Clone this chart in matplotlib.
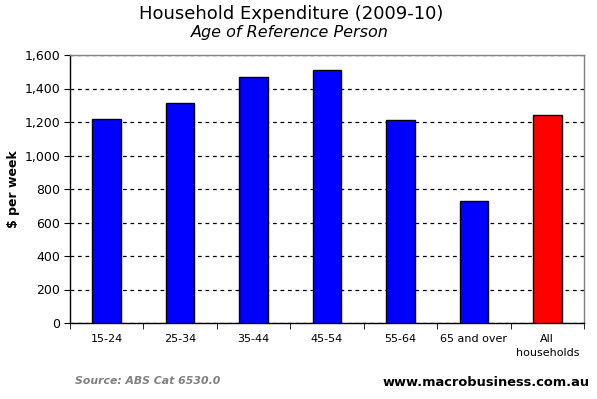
import matplotlib

matplotlib.use("Agg")
import matplotlib.pyplot as plt
import numpy as np

categories = ["15-24", "25-34", "35-44", "45-54", "55-64", "65 and over", "All\nhouseholds"]
spend = [1220, 1316, 1466, 1508, 1209, 730, 1239]
colors = ["#0000ff"] * 6 + ["#ff0000"]
yticks = [0, 200, 400, 600, 800, 1000, 1200, 1400, 1600]

plt.rcParams["font.family"] = ["DejaVu Sans"]

fig = plt.figure(figsize=(5.97, 3.99), dpi=100)
ax = fig.add_axes([70 / 597, 1 - 323 / 399, 514 / 597, 268 / 399])

x = np.arange(len(categories))
ax.bar(x, spend, width=0.39, color=colors, edgecolor="black", linewidth=1.0, zorder=3)

ax.set_xlim(-0.5, len(categories) - 0.5)
ax.set_ylim(0, 1600)
ax.set_yticks(yticks)
ax.set_yticklabels([f"{v:,}" for v in yticks], fontsize=9)
ax.set_xticks(x)
ax.set_xticklabels(categories, fontsize=8, linespacing=1.45)
ax.tick_params(axis="x", length=0, pad=8)
ax.set_xticks(np.arange(len(categories) + 1) - 0.5, minor=True)
ax.tick_params(axis="x", which="minor", length=4, direction="out", color="black")
ax.tick_params(axis="y", length=4, direction="out", color="black", pad=3)

# dashed horizontal gridlines behind the bars
ax.yaxis.grid(True, linestyle=(0, (3, 3)), color="black", linewidth=0.9, zorder=1)
ax.set_axisbelow(True)

ax.spines["left"].set_color("black")
ax.spines["bottom"].set_color("black")
ax.spines["top"].set_color("#808080")
ax.spines["right"].set_color("#808080")
for s in ax.spines.values():
    s.set_linewidth(1.0)

ax.set_ylabel("$ per week", fontsize=9, fontweight="bold", labelpad=3)

fig.text(291 / 597, 1 - 14 / 399, "Household Expenditure (2009-10)", ha="center", va="center", fontsize=13)
fig.text(290 / 597, 1 - 33 / 399, "Age of Reference Person", ha="center", va="center", fontsize=11.5, style="italic")
fig.text(75 / 597, 1 - 381 / 399, "Source: ABS Cat 6530.0", ha="left", va="center", fontsize=7.8,
         style="italic", fontweight="bold", color="#808080")
fig.text(590 / 597, 1 - 382 / 399, "www.macrobusiness.com.au", ha="right", va="center", fontsize=9.4,
         fontweight="bold", color="black")

fig.savefig("out.png", dpi=100)
